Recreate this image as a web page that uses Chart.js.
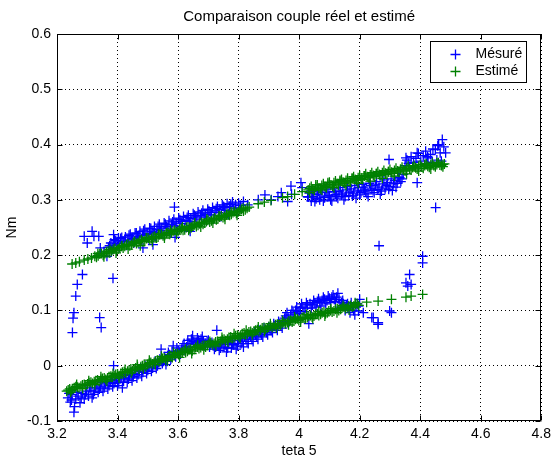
<!DOCTYPE html>
<html>
<head>
<meta charset="utf-8">
<script src="https://cdn.jsdelivr.net/npm/chart.js@4/dist/chart.umd.min.js"></script>
<style>
  body { margin: 0; background: #fff; }
  canvas { display: block; background: #fff; }
</style>
</head>
<body>
<canvas id="couple-chart" width="556" height="462"></canvas>
<script>
// valeurs : [teta 5, couple en Nm]
const titre = "Comparaison couple réel et estimé";
const labelX = "teta 5";
const labelY = "Nm";
const nomsSeries = ["Mésuré", "Estimé"];
const ticksX = [3.2, 3.4, 3.6, 3.8, 4, 4.2, 4.4, 4.6, 4.8];
const ticksY = [-0.1, 0, 0.1, 0.2, 0.3, 0.4, 0.5, 0.6];

// couple estimé, branche haute
const estimeHaut = [
  [3.250,0.184],[3.262,0.186],[3.274,0.188],[3.290,0.191],[3.302,0.193],[3.314,0.195],
  [3.325,0.198],[3.336,0.199],[3.347,0.203],[3.358,0.203],[3.369,0.207],[3.380,0.207],
  [3.391,0.212],[3.402,0.211],[3.413,0.216],[3.424,0.216],[3.435,0.220],[3.446,0.219],
  [3.457,0.224],[3.468,0.223],[3.479,0.228],[3.490,0.226],[3.501,0.231],[3.512,0.230],
  [3.523,0.234],[3.534,0.233],[3.545,0.238],[3.556,0.236],[3.567,0.241],[3.578,0.240],
  [3.589,0.245],[3.600,0.243],[3.611,0.248],[3.622,0.246],[3.633,0.251],[3.644,0.250],
  [3.655,0.255],[3.666,0.254],[3.677,0.259],[3.688,0.258],[3.699,0.263],[3.710,0.262],
  [3.721,0.267],[3.732,0.266],[3.743,0.271],[3.754,0.270],[3.765,0.275],[3.776,0.274],
  [3.787,0.279],[3.798,0.278],[3.810,0.283],[3.822,0.282],[3.835,0.287],
  [3.865,0.293],[3.885,0.296],[3.907,0.299],[3.945,0.304],[3.962,0.306],[3.985,0.310],
  [4.010,0.315],[4.030,0.318],[4.040,0.324],[4.050,0.317],[4.060,0.327],[4.070,0.320],
  [4.080,0.329],[4.090,0.322],[4.100,0.332],[4.110,0.325],[4.120,0.334],[4.130,0.327],
  [4.140,0.337],[4.150,0.330],[4.160,0.339],[4.170,0.332],[4.180,0.342],[4.190,0.335],
  [4.200,0.344],[4.210,0.337],[4.220,0.347],[4.230,0.340],[4.240,0.349],[4.250,0.342],
  [4.260,0.351],[4.270,0.344],[4.280,0.353],[4.290,0.346],[4.300,0.355],[4.310,0.348],
  [4.320,0.357],[4.330,0.350],[4.340,0.359],[4.350,0.352],[4.360,0.361],[4.370,0.354],
  [4.380,0.362],[4.390,0.356],[4.400,0.364],[4.410,0.357],[4.420,0.365],[4.430,0.359],
  [4.440,0.366],[4.450,0.360],[4.460,0.367],[4.470,0.362],[4.480,0.365]
];
const estimeHaut2 = [
  [3.3305,0.196],[3.3415,0.202],[3.3525,0.200],[3.3635,0.206],[3.3745,0.204],[3.3855,0.210],
  [3.3965,0.208],[3.4075,0.214],[3.4185,0.213],[3.4295,0.219],[3.4405,0.217],[3.4515,0.222],
  [3.4625,0.221],[3.4735,0.226],[3.4845,0.225],[3.4955,0.230],[3.5065,0.228],[3.5175,0.233],
  [3.5285,0.231],[3.5395,0.237],[3.5505,0.235],[3.5615,0.240],[3.5725,0.238],[3.5835,0.243],
  [3.5945,0.242],[3.6055,0.247],[3.6165,0.245],[3.6275,0.250],[3.6385,0.248],[3.6495,0.253],
  [3.6605,0.252],[3.6715,0.257],[3.6825,0.256],[3.6935,0.261],[3.7045,0.260],[3.7155,0.265],
  [3.7265,0.264],[3.7375,0.269],[3.7485,0.268],[3.7595,0.273],[3.7705,0.272],[3.7815,0.277],
  [3.7925,0.276],[3.804,0.281],[3.816,0.280],[3.828,0.285],
  [4.035,0.321],[4.045,0.319],[4.055,0.323],[4.065,0.321],[4.075,0.326],[4.085,0.324],
  [4.095,0.328],[4.105,0.327],[4.115,0.331],[4.125,0.329],[4.135,0.333],[4.145,0.332],
  [4.155,0.335],[4.165,0.334],[4.175,0.338],[4.185,0.337],[4.195,0.340],[4.205,0.339],
  [4.215,0.343],[4.225,0.342],[4.235,0.345],[4.245,0.344],[4.255,0.347],[4.265,0.346],
  [4.275,0.349],[4.285,0.348],[4.295,0.351],[4.305,0.350],[4.315,0.353],[4.325,0.352],
  [4.335,0.355],[4.345,0.354],[4.355,0.357],[4.365,0.356],[4.375,0.359],[4.385,0.358],
  [4.395,0.361],[4.405,0.360],[4.415,0.362],[4.425,0.361],[4.435,0.363],[4.445,0.362],
  [4.455,0.364],[4.465,0.363],[4.475,0.364]
];
const estimeHaut3 = [
  [3.335,0.203],[3.355,0.197],[3.375,0.210],[3.395,0.204],[3.415,0.217],[3.435,0.211],
  [3.455,0.224],[3.475,0.217],[3.495,0.231],[3.515,0.224],[3.535,0.238],[3.555,0.231],
  [3.575,0.245],[3.595,0.238],[3.615,0.251],[3.635,0.245],[3.655,0.258],[3.675,0.251],
  [3.695,0.265],[3.715,0.258],[3.735,0.271],[3.755,0.265],[3.775,0.278],[3.795,0.272],
  [3.815,0.285],
  [4.035,0.313],[4.055,0.327],[4.075,0.318],[4.095,0.331],[4.115,0.322],[4.135,0.335],
  [4.155,0.326],[4.175,0.339],[4.195,0.330],[4.215,0.343],[4.235,0.334],[4.255,0.347],
  [4.275,0.339],[4.295,0.351],[4.315,0.343],[4.335,0.355],[4.355,0.347],[4.375,0.359],
  [4.395,0.352],[4.415,0.364],[4.435,0.356],[4.455,0.367],[4.475,0.360]
];

// couple estimé, branche basse
const estimeBas = [
  [3.232,-0.046],[3.242,-0.042],[3.252,-0.043],[3.262,-0.038],[3.273,-0.040],[3.284,-0.035],
  [3.295,-0.036],[3.306,-0.031],[3.317,-0.032],[3.328,-0.027],[3.339,-0.028],[3.350,-0.023],
  [3.361,-0.025],[3.372,-0.020],[3.383,-0.021],[3.394,-0.016],[3.405,-0.018],[3.416,-0.012],
  [3.427,-0.013],[3.438,-0.008],[3.449,-0.009],[3.460,-0.004],[3.471,-0.006],[3.482,0.000],
  [3.493,-0.002],[3.504,0.004],[3.515,0.003],[3.526,0.008],[3.537,0.007],[3.548,0.013],
  [3.559,0.011],[3.570,0.017],[3.581,0.015],[3.592,0.021],[3.603,0.020],[3.614,0.025],
  [3.625,0.024],[3.636,0.029],[3.647,0.027],[3.658,0.033],[3.669,0.031],[3.680,0.036],
  [3.691,0.034],[3.702,0.040],[3.713,0.038],[3.724,0.043],[3.735,0.042],[3.746,0.047],
  [3.757,0.045],[3.768,0.051],[3.779,0.049],[3.790,0.054],[3.801,0.053],[3.812,0.058],
  [3.823,0.056],[3.834,0.061],[3.845,0.059],[3.856,0.064],[3.867,0.062],[3.878,0.068],
  [3.889,0.066],[3.900,0.071],[3.911,0.069],[3.922,0.074],[3.933,0.072],[3.944,0.077],
  [3.955,0.076],[3.966,0.081],[3.977,0.079],[3.988,0.084],[3.999,0.082],[4.010,0.087],
  [4.021,0.085],[4.032,0.090],[4.043,0.088],[4.054,0.093],[4.065,0.091],[4.076,0.096],
  [4.087,0.094],[4.098,0.099],[4.109,0.097],[4.120,0.102],[4.131,0.100],[4.142,0.105],
  [4.153,0.103],[4.164,0.108],[4.175,0.106],[4.186,0.111],[4.197,0.109],
  [4.223,0.115],[4.261,0.117],[4.305,0.120],[4.353,0.124],[4.370,0.126],[4.408,0.129]
];
const estimeBas2 = [
  [3.237,-0.044],[3.247,-0.045],[3.257,-0.040],[3.268,-0.039],[3.279,-0.037],[3.290,-0.034],
  [3.301,-0.033],[3.312,-0.030],[3.323,-0.029],[3.334,-0.026],[3.345,-0.025],[3.356,-0.022],
  [3.367,-0.022],[3.378,-0.019],[3.389,-0.018],[3.400,-0.015],[3.411,-0.014],[3.422,-0.011],
  [3.433,-0.010],[3.444,-0.006],[3.455,-0.006],[3.466,-0.002],[3.477,-0.002],[3.488,0.002],
  [3.499,0.002],[3.510,0.006],[3.521,0.006],[3.532,0.010],[3.543,0.010],[3.554,0.014],
  [3.565,0.014],[3.576,0.018],[3.587,0.018],[3.598,0.022],[3.609,0.023],[3.620,0.027],
  [3.631,0.026],[3.642,0.030],[3.653,0.030],[3.664,0.034],[3.675,0.033],[3.686,0.037],
  [3.697,0.037],[3.708,0.041],[3.719,0.040],[3.730,0.044],[3.741,0.044],[3.752,0.048],
  [3.763,0.048],[3.774,0.052],[3.785,0.051],[3.796,0.055],[3.807,0.055],[3.818,0.059],
  [3.829,0.058],[3.840,0.062],[3.851,0.061],[3.862,0.065],[3.873,0.065],[3.884,0.069],
  [3.895,0.068],[3.906,0.072],[3.917,0.071],[3.928,0.075],[3.939,0.074],[3.950,0.078],
  [3.961,0.078],[3.972,0.082],[3.983,0.081],[3.994,0.085],[4.005,0.084],[4.016,0.088],
  [4.027,0.087],[4.038,0.091],[4.049,0.090],[4.060,0.094],[4.071,0.093],[4.082,0.097],
  [4.093,0.096],[4.104,0.100],[4.115,0.099],[4.126,0.103],[4.137,0.102],[4.148,0.106],
  [4.159,0.105],[4.170,0.109],[4.181,0.108],[4.192,0.112]
];
const estimeBas3 = [
  [3.245,-0.048],[3.265,-0.034],[3.285,-0.041],[3.305,-0.027],[3.325,-0.034],[3.345,-0.020],
  [3.365,-0.028],[3.385,-0.014],[3.405,-0.022],[3.425,-0.007],[3.445,-0.013],[3.465,0.002],
  [3.485,-0.005],[3.505,0.010],[3.525,0.002],[3.545,0.017],[3.565,0.009],[3.585,0.024],
  [3.605,0.015],[3.625,0.030],[3.645,0.022],[3.665,0.037],[3.685,0.029],[3.705,0.044],
  [3.725,0.036],[3.745,0.051],[3.765,0.043],[3.785,0.058],[3.805,0.050],[3.825,0.064],
  [3.845,0.056],[3.865,0.070],[3.885,0.062],[3.905,0.076],[3.925,0.068],[3.945,0.082],
  [3.965,0.074],[3.985,0.088],[4.005,0.079],[4.025,0.093],[4.045,0.085],[4.065,0.098],
  [4.085,0.090],[4.105,0.103],[4.125,0.096],[4.145,0.109],[4.165,0.101],[4.185,0.114]
];

// couple mesuré, branche haute
const mesureHaut = [
  [3.284,0.165],[3.267,0.147],[3.262,0.126],[3.256,0.096],[3.253,0.086],[3.251,0.060],
  [3.341,0.087],[3.346,0.069],[3.385,0.158],[3.316,0.243],[3.322,0.234],[3.290,0.234],
  [3.338,0.234],[3.300,0.222],[3.387,0.237],[3.403,0.231],[3.343,0.213],[3.365,0.198],
  [3.355,0.206],[3.588,0.287],[3.484,0.213],[3.517,0.219],[3.590,0.232],[3.640,0.243],
  [3.370,0.214],[3.378,0.222],[3.386,0.218],[3.394,0.226],[3.402,0.221],[3.410,0.230],
  [3.418,0.224],[3.426,0.233],[3.434,0.227],[3.442,0.238],[3.450,0.230],[3.458,0.240],
  [3.466,0.233],[3.474,0.243],[3.482,0.236],[3.490,0.247],[3.498,0.239],[3.506,0.249],
  [3.514,0.243],[3.522,0.252],[3.530,0.246],[3.538,0.256],[3.546,0.249],[3.554,0.258],
  [3.562,0.252],[3.570,0.262],[3.578,0.255],[3.586,0.265],[3.594,0.258],[3.602,0.267],
  [3.610,0.261],[3.618,0.270],[3.626,0.263],[3.634,0.272],[3.642,0.266],[3.650,0.275],
  [3.658,0.269],[3.666,0.278],[3.674,0.272],[3.682,0.281],[3.690,0.274],[3.698,0.283],
  [3.706,0.277],[3.714,0.286],[3.722,0.280],[3.730,0.288],[3.738,0.283],[3.746,0.291],
  [3.754,0.286],[3.762,0.293],[3.770,0.288],[3.780,0.296],[3.790,0.291],[3.800,0.294],
  [3.816,0.297],[3.830,0.291],[3.865,0.300],[3.887,0.309],[3.908,0.300],[3.930,0.306],
  [3.941,0.313],[3.962,0.297],[3.973,0.325],[3.975,0.310],[4.006,0.331],[4.010,0.322],
  [4.028,0.306],[4.040,0.316],
  [4.030,0.305],[4.040,0.298],[4.048,0.312],[4.056,0.302],[4.064,0.316],[4.072,0.305],
  [4.080,0.298],[4.088,0.318],[4.096,0.308],[4.104,0.300],[4.112,0.320],[4.120,0.310],
  [4.128,0.303],[4.136,0.322],[4.144,0.312],[4.152,0.306],[4.160,0.324],[4.168,0.314],
  [4.176,0.307],[4.184,0.326],[4.192,0.316],[4.200,0.309],[4.208,0.328],[4.216,0.318],
  [4.224,0.311],[4.232,0.330],[4.240,0.320],[4.248,0.313],[4.256,0.333],[4.264,0.323],
  [4.272,0.316],[4.280,0.336],[4.288,0.326],[4.296,0.319],[4.304,0.338],[4.312,0.329],
  [4.320,0.323],[4.328,0.341],[4.336,0.333],[4.344,0.346],
  [4.350,0.362],[4.356,0.372],[4.362,0.366],[4.370,0.378],[4.378,0.368],[4.386,0.375],
  [4.394,0.384],[4.402,0.370],[4.410,0.380],[4.418,0.388],[4.426,0.376],[4.434,0.382],
  [4.442,0.392],[4.450,0.391],[4.458,0.398],[4.461,0.400],[4.466,0.385],[4.473,0.409],
  [4.478,0.396],[4.484,0.385],[4.455,0.372],[4.440,0.368],[4.420,0.366],[4.470,0.370],
  [4.297,0.373],[4.353,0.376],[4.390,0.385],[4.424,0.378],[4.390,0.331],[4.451,0.286]
];
const mesureHaut2 = [
  [3.374,0.217],[3.382,0.210],[3.390,0.228],[3.398,0.221],[3.406,0.214],[3.414,0.232],
  [3.422,0.225],[3.430,0.218],[3.438,0.236],[3.446,0.229],[3.454,0.222],[3.462,0.240],
  [3.470,0.233],[3.478,0.226],[3.486,0.244],[3.494,0.237],[3.502,0.230],[3.510,0.248],
  [3.518,0.241],[3.526,0.234],[3.534,0.252],[3.542,0.245],[3.550,0.238],[3.558,0.256],
  [3.566,0.249],[3.574,0.242],[3.582,0.260],[3.590,0.253],[3.598,0.246],[3.606,0.264],
  [3.614,0.257],[3.622,0.250],[3.630,0.268],[3.638,0.261],[3.646,0.254],[3.654,0.272],
  [3.662,0.265],[3.670,0.258],[3.678,0.276],[3.686,0.269],[3.694,0.262],[3.702,0.280],
  [3.710,0.273],[3.718,0.266],[3.726,0.284],[3.734,0.277],[3.742,0.270],[3.750,0.288],
  [3.758,0.281],[3.766,0.274],[3.774,0.292],[3.784,0.285],[3.794,0.279],[3.806,0.290],
  [4.034,0.312],[4.044,0.306],[4.052,0.297],[4.060,0.310],[4.068,0.300],[4.076,0.313],
  [4.084,0.304],[4.092,0.314],[4.100,0.307],[4.108,0.298],[4.116,0.315],[4.124,0.306],
  [4.132,0.316],[4.140,0.309],[4.148,0.300],[4.156,0.318],[4.164,0.308],[4.172,0.320],
  [4.180,0.312],[4.188,0.303],[4.196,0.322],[4.204,0.313],[4.212,0.323],[4.220,0.316],
  [4.228,0.306],[4.236,0.326],[4.244,0.317],[4.252,0.327],[4.260,0.319],[4.268,0.310],
  [4.276,0.329],[4.284,0.320],[4.292,0.331],[4.300,0.324],[4.308,0.317],[4.316,0.335],
  [4.324,0.330],[4.332,0.340],[4.340,0.338]
];

// couple mesuré, branche basse
const mesureBas = [
  [3.236,-0.058],[3.244,-0.066],[3.250,-0.052],[3.258,-0.074],[3.256,-0.084],[3.262,-0.060],
  [3.270,-0.055],[3.276,-0.067],[3.284,-0.050],[3.290,-0.060],[3.298,-0.046],[3.304,-0.055],
  [3.312,-0.044],[3.320,-0.052],[3.328,-0.040],[3.336,-0.048],[3.344,-0.037],[3.352,-0.046],
  [3.360,-0.033],[3.368,-0.042],[3.376,-0.030],[3.384,-0.038],[3.392,-0.027],[3.400,-0.036],
  [3.408,-0.024],[3.416,-0.040],[3.424,-0.022],[3.432,-0.030],[3.440,-0.018],[3.448,-0.027],
  [3.456,-0.014],[3.464,-0.022],[3.472,-0.010],[3.480,-0.019],[3.488,-0.006],[3.496,-0.014],
  [3.504,-0.002],[3.512,-0.010],[3.520,0.002],[3.528,-0.005],[3.536,0.006],[3.544,0.030],
  [3.552,0.008],[3.560,0.002],[3.568,0.024],[3.576,0.012],[3.584,0.036],[3.592,0.016],
  [3.600,0.027],[3.608,0.021],[3.616,0.036],[3.624,0.027],[3.632,0.046],[3.640,0.034],
  [3.648,0.054],[3.656,0.038],[3.664,0.050],[3.672,0.041],[3.680,0.053],[3.688,0.036],
  [3.696,0.044],[3.704,0.034],[3.712,0.042],[3.720,0.030],[3.728,0.064],[3.736,0.028],
  [3.744,0.040],[3.752,0.034],[3.760,0.025],[3.768,0.042],[3.776,0.032],[3.784,0.038],
  [3.792,0.030],[3.800,0.046],[3.808,0.040],[3.816,0.034],[3.824,0.048],[3.832,0.040],
  [3.840,0.052],[3.848,0.044],[3.856,0.056],[3.864,0.048],[3.872,0.060],[3.880,0.052],
  [3.888,0.064],[3.896,0.056],[3.904,0.066],[3.912,0.060],[3.920,0.072],[3.928,0.064],
  [3.936,0.076],[3.944,0.068],[3.952,0.086],[3.960,0.096],[3.968,0.080],[3.976,0.100],
  [3.984,0.088],[3.992,0.106],[4.000,0.094],[4.008,0.112],[4.016,0.098],[4.024,0.114],
  [4.032,0.076],[4.040,0.104],[4.048,0.118],[4.056,0.106],[4.064,0.121],[4.072,0.108],
  [4.080,0.124],[4.088,0.112],[4.096,0.126],[4.104,0.114],[4.112,0.128],[4.120,0.116],
  [4.128,0.131],[4.136,0.106],[4.144,0.118],[4.152,0.100],[4.160,0.112],[4.168,0.096],
  [4.176,0.106],[4.184,0.092],[4.192,0.112],[4.200,0.120],
  [3.387,0.000],[4.196,0.099],[4.212,0.096],[4.240,0.087],[4.245,0.087],[4.261,0.078],
  [4.299,0.099],[4.305,0.096],[4.261,0.075],[4.353,0.150],[4.359,0.144],[4.365,0.165],
  [4.370,0.147],[4.408,0.198],[4.408,0.186],[4.264,0.217]
];
const mesureBas2 = [
  [3.240,-0.050],[3.248,-0.062],[3.266,-0.048],[3.280,-0.058],[3.294,-0.052],[3.308,-0.040],
  [3.316,-0.058],[3.324,-0.046],[3.332,-0.034],[3.340,-0.042],[3.348,-0.030],[3.356,-0.040],
  [3.364,-0.028],[3.372,-0.036],[3.380,-0.025],[3.388,-0.032],[3.396,-0.022],[3.404,-0.030],
  [3.412,-0.020],[3.420,-0.028],[3.428,-0.016],[3.436,-0.024],[3.444,-0.012],[3.452,-0.020],
  [3.460,-0.009],[3.468,-0.016],[3.476,-0.004],[3.484,-0.012],[3.492,-0.001],[3.500,-0.008],
  [3.508,0.004],[3.516,-0.004],[3.524,0.008],[3.532,0.000],[3.540,0.012],[3.548,0.004],
  [3.556,0.016],[3.564,0.008],[3.572,0.020],[3.580,0.026],[3.588,0.020],[3.596,0.032],
  [3.604,0.024],[3.612,0.030],[3.620,0.040],[3.628,0.034],[3.636,0.040],[3.644,0.048],
  [3.652,0.044],[3.660,0.042],[3.668,0.046],[3.676,0.048],[3.684,0.044],[3.692,0.040],
  [3.700,0.046],[3.708,0.038],[3.716,0.036],[3.724,0.034],[3.732,0.038],[3.740,0.032],
  [3.748,0.044],[3.756,0.038],[3.764,0.032],[3.772,0.046],[3.780,0.040],[3.788,0.046],
  [3.796,0.036],[3.804,0.050],[3.812,0.044],[3.820,0.052],[3.828,0.044],[3.836,0.056],
  [3.844,0.048],[3.852,0.060],[3.860,0.052],[3.868,0.064],[3.876,0.056],[3.884,0.068],
  [3.892,0.060],[3.900,0.070],[3.908,0.064],[3.916,0.076],[3.924,0.068],[3.932,0.080],
  [3.940,0.074],[3.948,0.080],[3.956,0.090],[3.964,0.086],[3.972,0.092],[3.980,0.096],
  [3.988,0.100],[3.996,0.098],[4.004,0.104],[4.012,0.106],[4.020,0.104],[4.028,0.110],
  [4.036,0.112],[4.044,0.110],[4.052,0.114],[4.060,0.116],[4.068,0.114],[4.076,0.118],
  [4.084,0.120],[4.092,0.118],[4.100,0.122],[4.108,0.124],[4.116,0.120],[4.124,0.124],
  [4.132,0.120],[4.140,0.114],[4.148,0.110],[4.156,0.108],[4.164,0.104],[4.172,0.114],
  [4.180,0.100],[4.188,0.106],[4.196,0.108]
];

function toPoints(rows) {
  return rows.map(r => ({ x: r[0], y: r[1] }));
}

function fmt(v) {
  return parseFloat(v.toFixed(2)).toString();
}

const fontName = '"Liberation Sans", Arial, sans-serif';

// titre, cadre, ticks interieurs et legende facon matlab
const decor = {
  id: 'decor',
  afterDraw(chart) {
    const ctx = chart.ctx;
    const a = chart.chartArea;
    const sx = chart.scales.x;
    const sy = chart.scales.y;
    const l = Math.round(a.left) + 0.5, r = Math.round(a.right) - 0.5;
    const t = Math.round(a.top) + 0.5, b = Math.round(a.bottom) - 0.5;
    ctx.save();
    ctx.strokeStyle = '#000';
    ctx.lineWidth = 1;
    ctx.strokeRect(l, t, r - l, b - t);
    ctx.beginPath();
    ticksX.forEach(v => {
      const px = Math.round(sx.getPixelForValue(v)) + 0.5;
      ctx.moveTo(px, b); ctx.lineTo(px, b - 5);
      ctx.moveTo(px, t); ctx.lineTo(px, t + 5);
    });
    ticksY.forEach(v => {
      const py = Math.round(sy.getPixelForValue(v)) + 0.5;
      ctx.moveTo(l, py); ctx.lineTo(l + 5, py);
      ctx.moveTo(r, py); ctx.lineTo(r - 5, py);
    });
    ctx.stroke();

    ctx.fillStyle = '#000';
    ctx.font = '15px ' + fontName;
    ctx.textAlign = 'center';
    ctx.textBaseline = 'middle';
    ctx.fillText(titre, (a.left + a.right) / 2, 17);

    // legende
    ctx.font = '14px ' + fontName;
    const lw = 96, lh = 41;
    const lx = Math.round(a.right) - 15 - lw + 0.5;
    const ly = Math.round(a.top) + 7 + 0.5;
    ctx.fillStyle = '#fff';
    ctx.fillRect(lx, ly, lw, lh);
    ctx.strokeStyle = '#000';
    ctx.strokeRect(lx, ly, lw, lh);
    chart.data.datasets.forEach((ds, i) => {
      const cy = ly + 13 + i * 17;
      const cx = lx + 25;
      ctx.strokeStyle = ds.borderColor;
      ctx.lineWidth = ds.borderWidth;
      ctx.beginPath();
      ctx.moveTo(cx - 5, cy); ctx.lineTo(cx + 5, cy);
      ctx.moveTo(cx, cy - 5); ctx.lineTo(cx, cy + 5);
      ctx.stroke();
      ctx.fillStyle = '#000';
      ctx.textAlign = 'left';
      ctx.fillText(ds.label, lx + 45, cy);
    });
    ctx.restore();
  }
};

const ctx = document.getElementById('couple-chart');

new Chart(ctx, {
  type: 'scatter',
  data: {
    datasets: [{
      label: nomsSeries[0],
      data: toPoints(mesureHaut.concat(mesureHaut2, mesureBas, mesureBas2)),
      borderColor: 'rgb(0,0,255)',
      backgroundColor: 'rgb(0,0,255)',
      pointStyle: 'cross',
      pointRadius: 5,
      borderWidth: 1.3,
      order: 2
    }, {
      label: nomsSeries[1],
      data: toPoints(estimeHaut.concat(estimeHaut2, estimeHaut3, estimeBas, estimeBas2, estimeBas3)),
      borderColor: 'rgb(0,128,0)',
      backgroundColor: 'rgb(0,128,0)',
      pointStyle: 'cross',
      pointRadius: 5,
      borderWidth: 1.3,
      order: 1
    }]
  },
  options: {
    responsive: false,
    animation: false,
    devicePixelRatio: 1,
    events: [],
    layout: { padding: { top: 34, right: 10, left: 0, bottom: 0 } },
    plugins: {
      legend: { display: false },
      title: { display: false },
      tooltip: { enabled: false }
    },
    scales: {
      x: {
        type: 'linear',
        min: 3.2,
        max: 4.8,
        afterBuildTicks: s => { s.ticks = ticksX.map(v => ({ value: v })); },
        afterFit: s => { s.height = 41; },
        grid: { color: '#000', drawTicks: false },
        border: { display: false, dash: [1, 3] },
        ticks: {
          color: '#000',
          padding: 5,
          maxRotation: 0,
          font: { family: fontName, size: 14 },
          callback: v => fmt(v)
        },
        title: {
          display: true,
          text: labelX,
          color: '#000',
          padding: { top: 0, bottom: 2 },
          font: { family: fontName, size: 14 }
        }
      },
      y: {
        type: 'linear',
        min: -0.1,
        max: 0.6,
        afterBuildTicks: s => { s.ticks = ticksY.map(v => ({ value: v })); },
        afterFit: s => { s.width = 57; },
        grid: { color: '#000', drawTicks: false },
        border: { display: false, dash: [1, 3] },
        ticks: {
          color: '#000',
          padding: 6,
          font: { family: fontName, size: 14 },
          callback: v => fmt(v)
        },
        title: {
          display: true,
          text: labelY,
          color: '#000',
          padding: { top: 4, bottom: 0 },
          font: { family: fontName, size: 14 }
        }
      }
    }
  },
  plugins: [decor]
});
</script>
</body>
</html>
